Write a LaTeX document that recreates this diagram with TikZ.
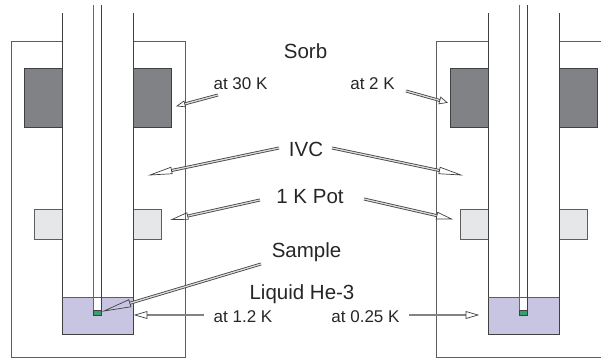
\documentclass[tikz,border=0pt]{standalone}
\usepackage{fontspec}
\setmainfont{Liberation Sans}
\usetikzlibrary{calc}
\definecolor{ln}{HTML}{3F4042}
\definecolor{sorbc}{HTML}{808285}
\definecolor{potc}{HTML}{E6E7E8}
\definecolor{liqc}{HTML}{C7C5E2}
\definecolor{samc}{HTML}{3A9F6E}
\tikzset{
  wall/.style={draw=ln,line width=0.9pt},
  outer/.style={draw=ln!85,line width=0.8pt},
  lab/.style={inner sep=0pt,text=black!85,font=\fontsize{20.5}{22}\selectfont},
  slab/.style={inner sep=0pt,text=black!85,font=\fontsize{17}{19}\selectfont},
  shaftout/.style={draw=ln,line width=2.9pt,line cap=butt},
  shaftin/.style={draw=white!80!ln,line width=1.3pt,line cap=butt},
  flatin/.style={shaftin/.style={draw=white!35!ln,line width=1.3pt,line cap=butt}},
  headtip/.style={draw=ln,line width=0.7pt,line join=miter}
}
\newcommand{\hollowarrow}[4]{%
  \coordinate (hb) at ($(#2)!#3pt!(#1)$);
  \draw[shaftout] (#1) -- (hb);
  \draw[shaftin] (#1) -- (hb);
  \draw[headtip] (#2) -- ($(hb)!#4pt!90:(#2)$) -- ($(hb)!#4pt!-90:(#2)$) -- cycle;
}
\newcommand{\cryostat}[1]{%
  \begin{scope}[xshift=#1]
    \fill[liqc] (62,334) rectangle (133,297);
    \fill[white] (93.5,297) rectangle (101.5,315);
    \filldraw[wall,fill=sorbc] (62,68) rectangle (24,127);
    \filldraw[wall,fill=sorbc] (133,68) rectangle (171,127);
    \filldraw[outer,fill=potc] (62,209) rectangle (34,239);
    \filldraw[outer,fill=potc] (133,209) rectangle (161,239);
    \draw[wall] (62,13) -- (62,334) -- (133,334) -- (133,13);
    \draw[outer,line width=0.6pt] (62,297) -- (133,297);
    \draw[wall,draw=ln!80] (93.5,5) -- (93.5,315);
    \draw[wall] (101.5,5) -- (101.5,315);
    \filldraw[draw=ln,fill=samc,line width=0.6pt] (93.5,310.5) rectangle (101.5,315.5);
  \end{scope}
}
\begin{document}
\begin{tikzpicture}[x=1pt,y=-1pt]
\useasboundingbox (0,0) rectangle (601,358);
% outer boxes
\draw[outer] (62,41.5) -- (11,41.5) -- (11,357) -- (185.5,357) -- (185.5,41.5) -- (133,41.5);
\draw[outer] (488,41.5) -- (436.5,41.5) -- (436.5,357) -- (601,357);
\draw[outer] (558.5,41.5) -- (601,41.5);
\cryostat{0pt}
\cryostat{426pt}
% labels
\node[lab] (sorb) at (305.5,51) {Sorb};
\node[lab] (ivc) at (306,149) {IVC};
\node[lab] (pot) at (310,197) {1 K Pot};
\node[lab] (sample) at (306.5,252) {Sample};
\node[lab] (liquid) at (302,294) {Liquid He-3};
\node[slab] (t30) at (240.5,84) {at 30 K};
\node[slab] (t2) at (372.5,84) {at 2 K};
\node[slab] (t12) at (243,317) {at 1.2 K};
\node[slab] (t025) at (365.5,317) {at 0.25 K};
% connector ends
\coordinate (a1) at (218,95);   \coordinate (b1) at (177,106);
\coordinate (a2) at (279,148);  \coordinate (b2) at (150,175);
\coordinate (a3) at (260,200);  \coordinate (b3) at (172,219.5);
\coordinate (a4) at (261,264);  \coordinate (b4) at (104,311);
\coordinate (a5) at (204,315);  \coordinate (b5) at (135,315);
\coordinate (a6) at (406,91);   \coordinate (b6) at (447,102.5);
\coordinate (a7) at (332,148);  \coordinate (b7) at (461,175);
\coordinate (a8) at (364,199);  \coordinate (b8) at (451.5,219);
\coordinate (a9) at (409,315);  \coordinate (b9) at (478,315);
\hollowarrow{a1}{b1}{8}{3}
\hollowarrow{a2}{b2}{22}{3.3}
\hollowarrow{a3}{b3}{16}{3.4}
\begin{scope}[flatin]
\hollowarrow{a5}{b5}{12}{3.5}
\hollowarrow{a9}{b9}{12}{3.5}
\end{scope}
\hollowarrow{a6}{b6}{7.5}{3.5}
\hollowarrow{a7}{b7}{22}{3.3}
\hollowarrow{a8}{b8}{15}{3.4}
\hollowarrow{a4}{b4}{27}{3.7}
\end{tikzpicture}
\end{document}
